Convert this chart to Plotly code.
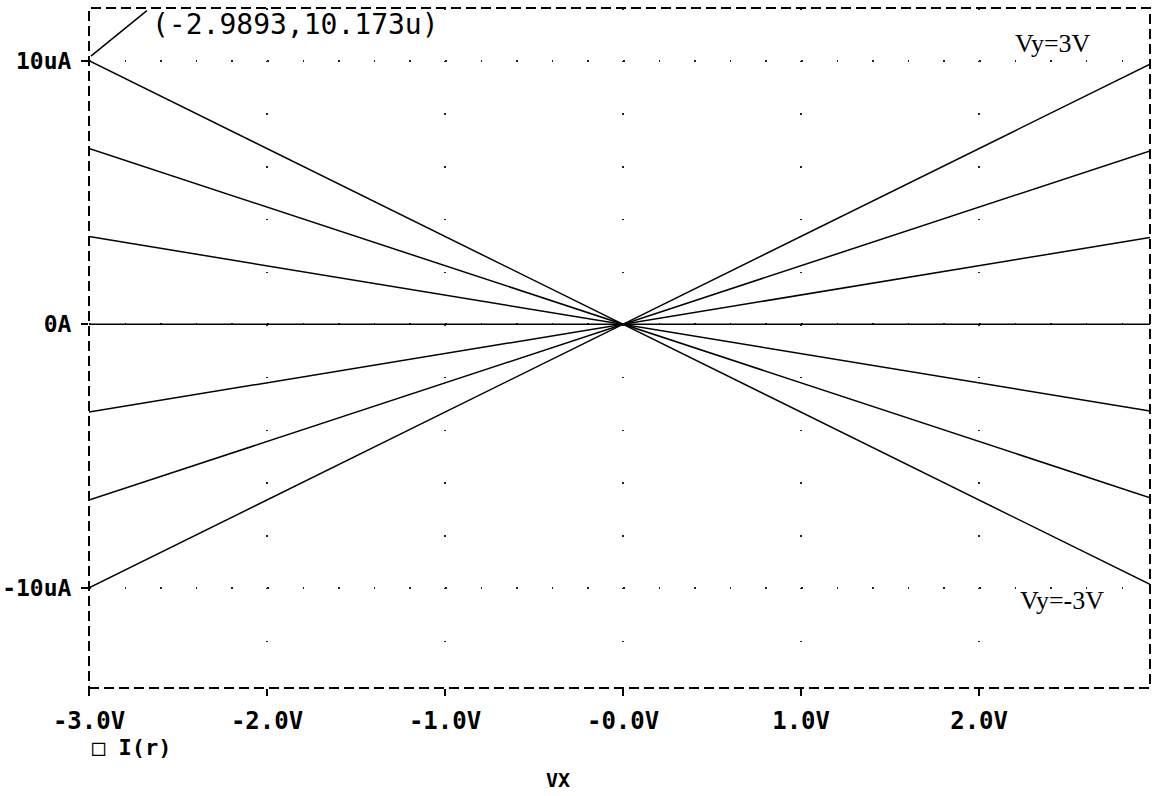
import plotly.graph_objects as go

# ---- data ----
vx = [-3.0, 0.0, 2.96]                      # sweep voltage VX (V)
vy_labels = ["Vy=-3V", "Vy=-2V", "Vy=-1V", "Vy=0V", "Vy=1V", "Vy=2V", "Vy=3V"]
i_vy_m3 = [10.0, 0.0, -9.87]                # I(r) in uA
i_vy_m2 = [6.67, 0.0, -6.58]
i_vy_m1 = [3.33, 0.0, -3.29]
i_vy_0 = [0.0, 0.0, 0.0]
i_vy_p1 = [-3.33, 0.0, 3.29]
i_vy_p2 = [-6.67, 0.0, 6.58]
i_vy_p3 = [-10.0, 0.0, 9.87]
series = [i_vy_m3, i_vy_m2, i_vy_m1, i_vy_0, i_vy_p1, i_vy_p2, i_vy_p3]

x_tickvals = [-3, -2, -1, 0, 1, 2]
x_ticktext = ["-3.0V", "-2.0V", "-1.0V", "-0.0V", "1.0V", "2.0V"]
y_tickvals = [-10, 0, 10]
y_ticktext = ["-10uA", "0A", "10uA"]
cursor_x, cursor_y = -2.9893, 10.173

# ---- layout geometry ----
W, H = 1154, 796
ML, MR, MT, MB = 89, 4, 8, 108
x_range = [-3.0, 2.96]
y_range = [-13.8, 12.0]
plot_w = W - ML - MR
plot_h = H - MT - MB
px_per_v = plot_w / (x_range[1] - x_range[0])
px_per_ua = plot_h / (y_range[1] - y_range[0])
dot = 1.5
hdash = f"{dot}px,{0.2 * px_per_v - dot:.3f}px"
vdash = f"{dot}px,{2.0 * px_per_ua - dot:.3f}px"

fig = go.Figure()
for name, ys in zip(vy_labels, series):
    fig.add_trace(go.Scatter(x=vx, y=ys, mode="lines", name=name,
                             line=dict(color="black", width=1.5),
                             showlegend=False, hoverinfo="x+y"))

fig.update_layout(
    width=W, height=H,
    margin=dict(l=ML, r=MR, t=MT, b=MB, pad=0, autoexpand=False),
    paper_bgcolor="white", plot_bgcolor="white",
    xaxis=dict(range=x_range, tickvals=x_tickvals, ticktext=x_ticktext,
               showgrid=True, gridcolor="#222", gridwidth=1.5, griddash=vdash,
               zeroline=False, showline=False, automargin=False,
               ticks="outside", ticklen=7, tickwidth=2, tickcolor="black",
               tickfont=dict(family="DejaVu Sans Mono", size=24, color="black", weight="bold"),
               ticklabelstandoff=4),
    yaxis=dict(range=y_range, tickvals=y_tickvals, ticktext=y_ticktext,
               showgrid=True, gridcolor="#222", gridwidth=1.5, griddash=hdash,
               zeroline=False, showline=False, automargin=False,
               ticks="outside", ticklen=7, tickwidth=2, tickcolor="black",
               tickfont=dict(family="DejaVu Sans Mono", size=23, color="black", weight="bold"),
               ticklabelstandoff=5),
    shapes=[dict(type="rect", xref="paper", yref="paper", x0=0, x1=1, y0=0, y1=1,
                 line=dict(color="black", width=2, dash="10px,5px"),
                 fillcolor="rgba(0,0,0,0)", layer="above")],
)

def px_x(p):
    return (p - ML) / plot_w

def px_y(p):
    return (H - MB - p) / plot_h

annos = [
    # cursor leader line
    dict(x=cursor_x, y=cursor_y, xref="x", yref="y", text=" ", showarrow=True,
         arrowhead=0, arrowwidth=1.5, arrowcolor="black", ax=59, ay=-48),
    dict(x=px_x(150), y=px_y(24), xref="paper", yref="paper", xanchor="left", yanchor="middle",
         text=f"({cursor_x},{cursor_y}u)", showarrow=False,
         font=dict(family="DejaVu Sans Mono", size=28, color="black")),
    dict(x=px_x(1013), y=px_y(43), xref="paper", yref="paper", xanchor="left", yanchor="middle",
         text="Vy=3V", showarrow=False,
         font=dict(family="Liberation Serif", size=26, color="black")),
    dict(x=px_x(1018), y=px_y(600), xref="paper", yref="paper", xanchor="left", yanchor="middle",
         text="Vy=-3V", showarrow=False,
         font=dict(family="Liberation Serif", size=26, color="black")),
    dict(x=px_x(90), y=px_y(748), xref="paper", yref="paper", xanchor="left", yanchor="middle",
         text="□ I(r)", showarrow=False,
         font=dict(family="DejaVu Sans Mono", size=22, color="black", weight="bold")),
    dict(x=px_x(558), y=px_y(780), xref="paper", yref="paper", xanchor="center", yanchor="middle",
         text="VX", showarrow=False,
         font=dict(family="DejaVu Sans Mono", size=20, color="black", weight="bold")),
]
fig.update_layout(annotations=annos)

fig.write_html("out.html", config={"displayModeBar": False},
               post_script="document.body.style.margin='0';document.body.style.padding='0';")
